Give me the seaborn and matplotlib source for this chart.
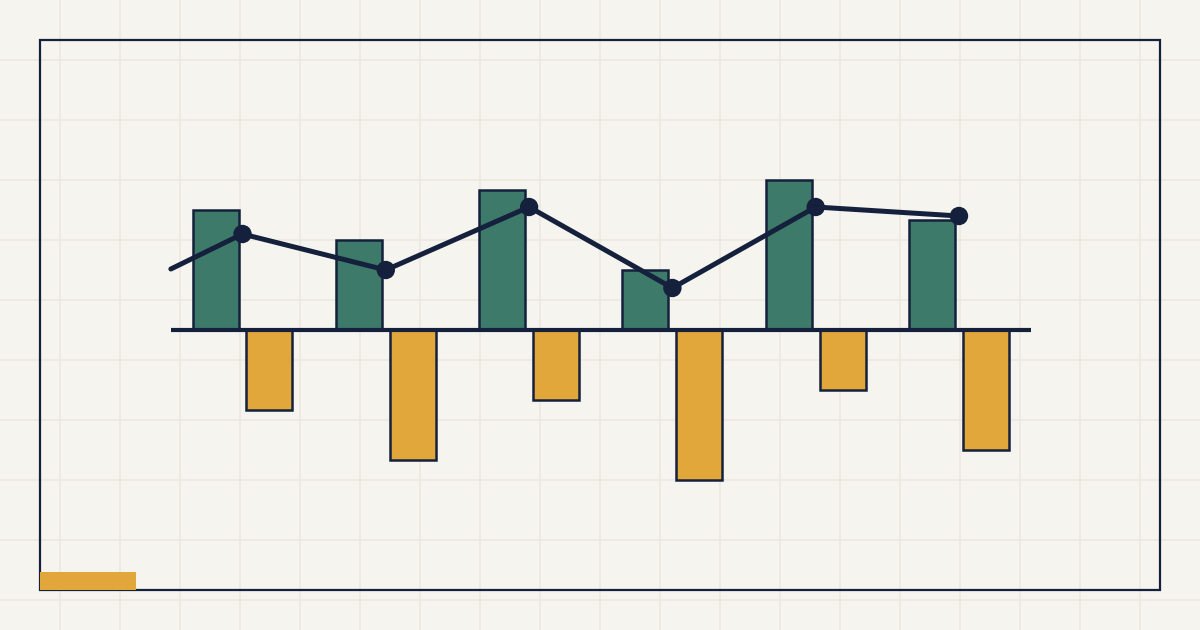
import numpy as np
import pandas as pd
import matplotlib
matplotlib.use("Agg")
import matplotlib.pyplot as plt
from matplotlib.patches import Rectangle
import seaborn as sns

# ---- data ----
categories = ["P1", "P2", "P3", "P4", "P5", "P6"]
gains = [12, 9, 14, 6, 15, 11]
losses = [-8, -13, -7, -15, -6, -12]
trend_x = [-0.5, 0, 1, 2, 3, 4, 5]
trend = [6.1, 9.6, 6.0, 12.3, 4.2, 12.3, 11.4]

BG = "#f5f4ef"
GRID = "#ebe7de"
NAVY = "#15213c"
GREEN = "#3d7a6a"
ORANGE = "#e2a73b"

sns.set_theme(style="white")
fig = plt.figure(figsize=(12, 6.3), dpi=100, facecolor=BG)
ax = fig.add_axes([0, 0, 1, 1])
ax.set_facecolor(BG)

idx = list(range(len(categories)))
df = pd.DataFrame({
    "idx": idx * 2,
    "value": gains + losses,
    "series": ["gain"] * len(idx) + ["loss"] * len(idx),
})

sns.barplot(data=df, x="idx", y="value", hue="series", hue_order=["gain", "loss"],
            palette={"gain": GREEN, "loss": ORANGE}, width=0.7535, gap=0.148,
            edgecolor=NAVY, linewidth=1.8, saturation=1, legend=False, ax=ax,
            zorder=3)

ax.hlines(0, -0.5, len(categories) - 0.5, color=NAVY, linewidth=3.0, zorder=4)

sns.lineplot(x=trend_x, y=trend, color=NAVY, linewidth=3.6, ax=ax, zorder=5,
             solid_capstyle="round", solid_joinstyle="round")
sns.scatterplot(x=trend_x[1:], y=trend[1:], color=NAVY, s=175, edgecolor="none",
                ax=ax, zorder=6)

# pixel mapping: group i center at 242.5 + 143.3*i px; value v at 330 - 10*v px
step = 143.3
x0 = 242.5
ax.set_xlim(-x0 / step, (1200 - x0) / step)
ax.set_ylim(-30, 33)

# decorative 60px background grid
ax.set_xticks([(60 * k - x0) / step for k in range(1, 20)])
ax.set_yticks([33 - 6 * k for k in range(1, 11)])
ax.grid(True, color=GRID, linewidth=1.1)
ax.set_axisbelow(True)
ax.tick_params(length=0, labelbottom=False, labelleft=False)
ax.set_xlabel("")
ax.set_ylabel("")
for s in ax.spines.values():
    s.set_visible(False)

# frame and accent
W, H = 1200, 630
fig.patches.append(Rectangle((40 / W, 1 - 590 / H), 1120 / W, 550 / H,
                             transform=fig.transFigure, fill=False,
                             edgecolor=NAVY, linewidth=1.6, zorder=10))
fig.patches.append(Rectangle((40 / W, 1 - 590 / H), 96 / W, 18 / H,
                             transform=fig.transFigure, facecolor=ORANGE,
                             edgecolor="none", zorder=11))

fig.savefig("out.png", dpi=100, facecolor=BG)
